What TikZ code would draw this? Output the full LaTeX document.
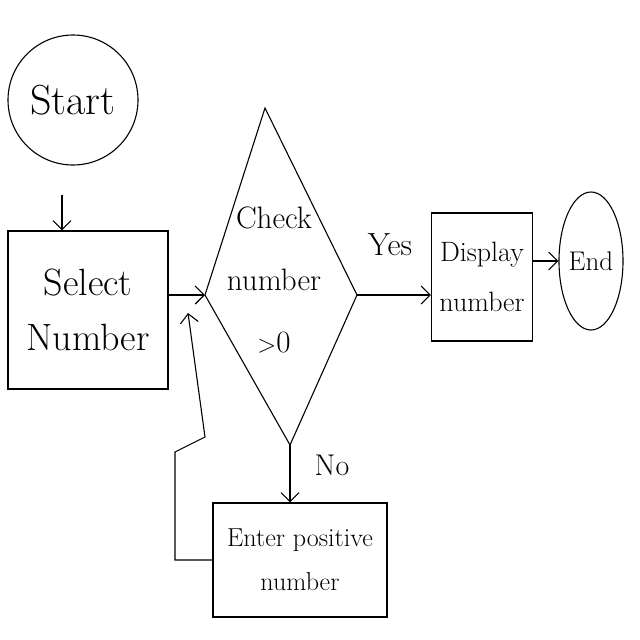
\documentclass[tikz,border=0pt]{standalone}
\usetikzlibrary{arrows.meta,shapes.geometric}
\begin{document}
\begin{tikzpicture}[x=1pt,y=-1pt,
  line width=1.1pt,
  arr/.style={-{Straight Barb[length=9pt,width=18pt]}},
  ctr/.style={align=center}]
\fill[white] (0,0) rectangle (640,640);
\useasboundingbox (0,0) rectangle (640,640);
% Start
\node[draw, circle, minimum size=130pt, inner sep=0pt, ctr, font=\fontsize{42}{46}\selectfont] (start) at (73,100) {Start};
% Select number
\node[draw, minimum width=160pt, minimum height=158pt, ctr, font=\fontsize{38}{55}\selectfont] (select) at (88,310) {Select\\Number};
% Diamond
\coordinate (dl) at (205,295);
\coordinate (dt) at (265,108);
\coordinate (dr) at (357,295);
\coordinate (db) at (290,445);
\draw (dl) -- (dt) -- (dr) -- (db) -- cycle;
\node[ctr, font=\fontsize{31}{62}\selectfont] (check) at (274,280) {Check\\number\\$>$0};
% Display
\node[draw, minimum width=101pt, minimum height=128pt, ctr, font=\fontsize{28}{50}\selectfont] (disp) at (482,277) {Display\\number};
% End
\node[draw, ellipse, minimum width=64pt, minimum height=138pt, inner sep=0pt, font=\fontsize{27}{30}\selectfont] (end) at (591,261) {End};
% Enter positive
\node[draw, minimum width=174pt, minimum height=114pt, ctr, font=\fontsize{26}{44}\selectfont] (enter) at (300,560) {Enter positive\\number};
% Labels
\node[font=\fontsize{32}{36}\selectfont] (yes) at (390,245) {Yes};
\node[font=\fontsize{30}{34}\selectfont] (no) at (332,465) {No};
% Connectors
\coordinate (a1) at (62,195);
\draw[arr] (a1) -- (a1 |- select.north);
\draw[arr] (select.east |- dl) -- (dl);
\draw[arr] (dr) -- (disp.west |- dr);
\draw[arr] (disp.east |- end.west) -- (end.west);
\draw[arr] (db) -- (db |- enter.north);
\coordinate (l1) at (175,560);
\coordinate (l2) at (175,452);
\coordinate (l3) at (205,437);
\coordinate (l4) at (188,313);
\draw[arr] (enter.west) -- (l1) -- (l2) -- (l3) -- (l4);
\end{tikzpicture}
\end{document}
